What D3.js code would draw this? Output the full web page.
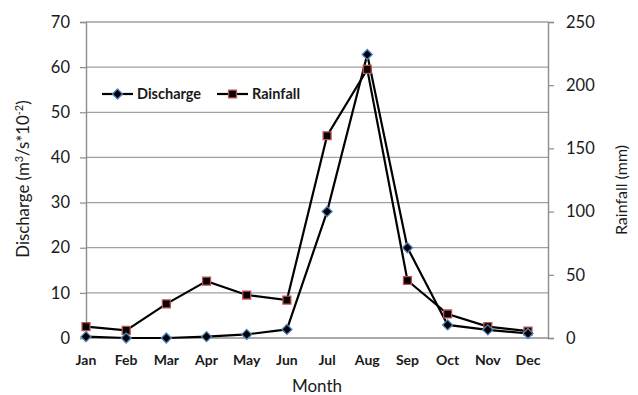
<!DOCTYPE html>
<html>
<head>
<meta charset="utf-8">
<script src="https://cdn.jsdelivr.net/npm/d3@7"></script>
<style>
  html, body { margin: 0; padding: 0; background: #fff; }
  svg { display: block; font-family: Lato, "Open Sans", sans-serif; }
</style>
</head>
<body>
<svg id="chart" width="638" height="395"></svg>
<script>
// Monthly discharge (m3/s*10^-2) and rainfall (mm)
const months = ["Jan","Feb","Mar","Apr","May","Jun","Jul","Aug","Sep","Oct","Nov","Dec"];
const discharge = [0.3, 0, 0, 0.3, 0.8, 1.9, 28, 62.8, 20, 2.9, 1.8, 1.0];
const rainfall = [9, 6, 27, 45, 34, 30, 160, 212.5, 45.5, 19, 9, 5.5];
const leftTicks = [0, 10, 20, 30, 40, 50, 60, 70];
const rightTicks = [0, 50, 100, 150, 200, 250];

const svg = d3.select("#chart");
const plot = { left: 86, right: 548, top: 22, bottom: 338 };

const x = d3.scalePoint().domain(months).range([86, 528]);
const yL = d3.scaleLinear().domain([0, 70]).range([plot.bottom, plot.top]);
const yR = d3.scaleLinear().domain([0, 250]).range([plot.bottom, plot.top]);

const axisGray = "#8c8c8c";
const textCol = "#1a1a1a";

// horizontal gridlines
svg.append("g").selectAll("line").data(leftTicks.slice(1)).join("line")
  .attr("x1", plot.left).attr("x2", plot.right)
  .attr("y1", d => yL(d)).attr("y2", d => yL(d))
  .attr("stroke", "#a0a0a0").attr("stroke-width", 1.3);

// left and right value axes
const gL = svg.append("g").attr("transform", `translate(${plot.left},0)`)
  .call(d3.axisLeft(yL).tickValues(leftTicks).tickSize(6).tickPadding(10).tickFormat(d3.format("d")));
const gR = svg.append("g").attr("transform", `translate(${plot.right},0)`)
  .call(d3.axisRight(yR).tickValues(rightTicks).tickSize(6).tickPadding(12).tickFormat(d3.format("d")));
[gL, gR].forEach(g => {
  g.select(".domain").attr("stroke", axisGray).attr("stroke-width", 1.4);
  g.selectAll(".tick line").attr("stroke", axisGray).attr("stroke-width", 1.2);
  g.selectAll(".tick text").attr("fill", textCol).attr("font-size", 16.5)
    .attr("font-family", "Lato, 'Open Sans', sans-serif");
});

// bottom axis line
svg.append("line")
  .attr("x1", plot.left).attr("x2", plot.right)
  .attr("y1", plot.bottom).attr("y2", plot.bottom)
  .attr("stroke", axisGray).attr("stroke-width", 1.4);

// month labels
svg.append("g").selectAll("text").data(months).join("text")
  .attr("x", d => x(d)).attr("y", 365)
  .attr("text-anchor", "middle").attr("font-size", 14).attr("font-weight", "bold")
  .attr("fill", textCol).text(d => d);

// axis titles
svg.append("text").attr("x", 317).attr("y", 392).attr("text-anchor", "middle")
  .attr("font-size", 17).attr("fill", textCol).text("Month");

const lt = svg.append("text").attr("transform", "translate(29,179) rotate(-90)")
  .attr("text-anchor", "middle").attr("font-size", 16.8).attr("fill", textCol);
lt.append("tspan").text("Discharge (m");
lt.append("tspan").attr("font-size", 11).attr("dy", -6).text("3");
lt.append("tspan").attr("dy", 6).text("/s*10");
lt.append("tspan").attr("font-size", 11).attr("dy", -6).text("-2");
lt.append("tspan").attr("dy", 6).text(")");

svg.append("text").attr("transform", "translate(627,190) rotate(-90)")
  .attr("text-anchor", "middle").attr("font-size", 16).attr("fill", textCol)
  .text("Rainfall (mm)");

// series lines
const lineL = d3.line().x((d, i) => x(months[i])).y(d => yL(d));
const lineR = d3.line().x((d, i) => x(months[i])).y(d => yR(d));

svg.append("path").datum(rainfall).attr("d", lineR)
  .attr("fill", "none").attr("stroke", "#000").attr("stroke-width", 2.2);
svg.append("path").datum(discharge).attr("d", lineL)
  .attr("fill", "none").attr("stroke", "#000").attr("stroke-width", 2.2);

const diamond = d3.symbol().type(d3.symbolDiamond2).size(64);
const square = d3.symbol().type(d3.symbolSquare2).size(80);

function diamondMark(sel) {
  sel.attr("d", diamond).attr("fill", "#000").attr("stroke", "#4f81bd").attr("stroke-width", 1.3);
}
function squareMark(sel) {
  sel.attr("d", square).attr("fill", "#000").attr("stroke", "#c0504d").attr("stroke-width", 1.3);
}

svg.append("g").selectAll("path").data(rainfall).join("path")
  .attr("transform", (d, i) => `translate(${x(months[i])},${yR(d)})`).call(squareMark);
svg.append("g").selectAll("path").data(discharge).join("path")
  .attr("transform", (d, i) => `translate(${x(months[i])},${yL(d)})`).call(diamondMark);

// legend
const legend = [
  { name: "Discharge", x0: 102, mark: diamondMark },
  { name: "Rainfall", x0: 217, mark: squareMark }
];
const lg = svg.append("g");
legend.forEach(l => {
  lg.append("line").attr("x1", l.x0).attr("x2", l.x0 + 31).attr("y1", 94).attr("y2", 94)
    .attr("stroke", "#000").attr("stroke-width", 2.2);
  lg.append("path").attr("transform", `translate(${l.x0 + 15.5},94)`).call(l.mark);
  lg.append("text").attr("x", l.x0 + 35).attr("y", 99).attr("font-size", 14.5)
    .attr("font-weight", "bold").attr("fill", textCol).text(l.name);
});
</script>
</body>
</html>
